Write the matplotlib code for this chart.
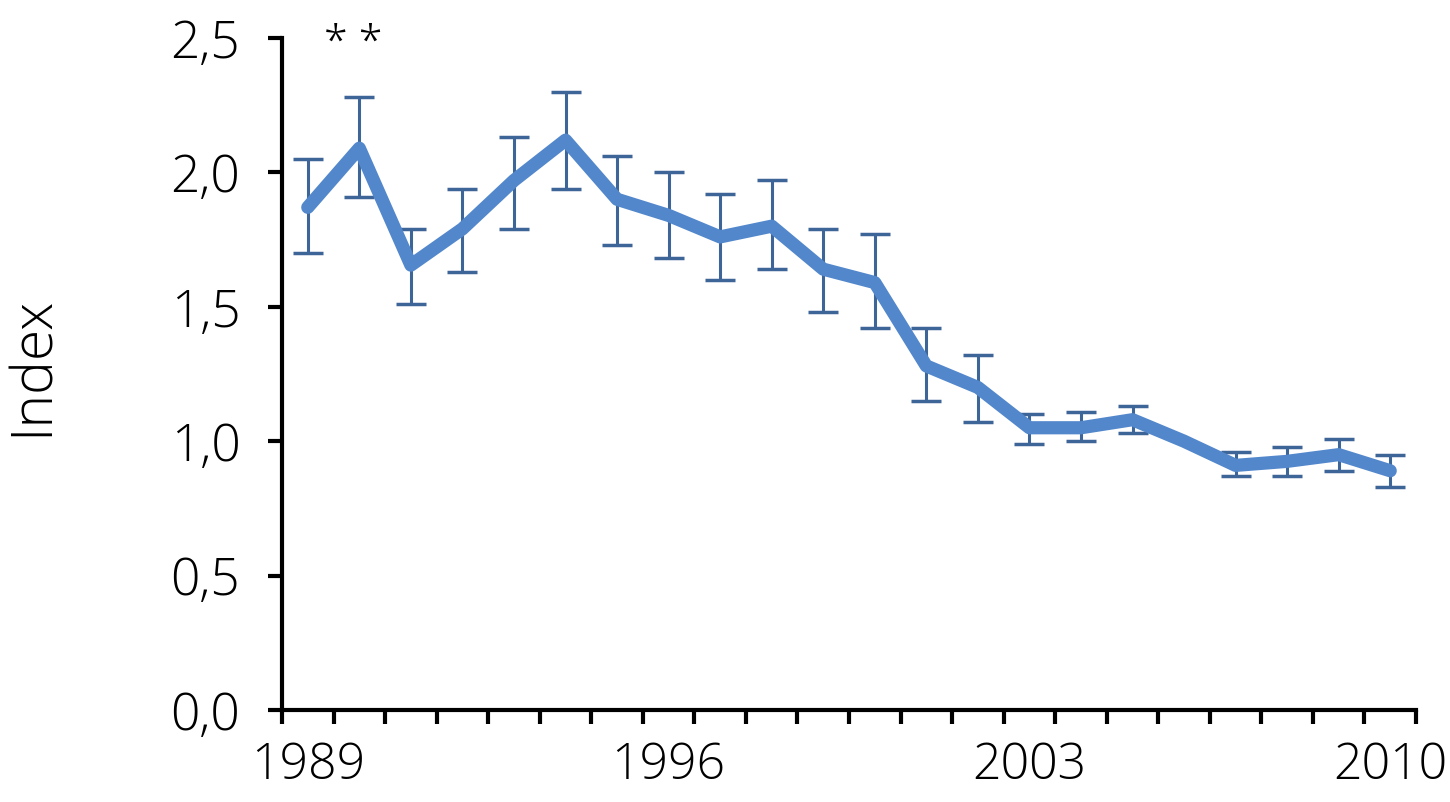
import matplotlib
matplotlib.use("Agg")
import matplotlib.pyplot as plt
import numpy as np

plt.rcParams['font.family'] = ['Open Sans', 'DejaVu Sans']

years = list(range(1989, 2011))
values = [1.87, 2.09, 1.655, 1.79, 1.97, 2.12, 1.90, 1.84, 1.76, 1.80, 1.64, 1.59,
          1.28, 1.20, 1.05, 1.05, 1.08, 1.00, 0.91, 0.925, 0.95, 0.89]
upper = [2.05, 2.28, 1.79, 1.94, 2.13, 2.30, 2.06, 2.00, 1.92, 1.97, 1.79, 1.77,
         1.42, 1.32, 1.10, 1.11, 1.13, None, 0.96, 0.98, 1.01, 0.95]
lower = [1.70, 1.91, 1.51, 1.63, 1.79, 1.94, 1.73, 1.68, 1.60, 1.64, 1.48, 1.42,
         1.15, 1.07, 0.99, 1.00, 1.03, None, 0.87, 0.87, 0.89, 0.83]
label_years = [1989, 1996, 2003, 2010]
y_ticks = [0.0, 0.5, 1.0, 1.5, 2.0, 2.5]
y_label = "Index"
annotation = "* *"

fig = plt.figure(figsize=(14.5, 8.02), dpi=100)
ax = fig.add_axes([282/1450, 1 - 710/802, (1416-282)/1450, (710-38)/802])

x = np.arange(len(years))
ax.plot(x, values, color='#5287cb', lw=9.5, solid_capstyle='round', solid_joinstyle='round', zorder=3)

ex, ey, elo, ehi = [], [], [], []
for i, (v, u, l) in enumerate(zip(values, upper, lower)):
    if u is None:
        continue
    ex.append(i); ey.append(v); elo.append(v - l); ehi.append(u - v)
ax.errorbar(ex, ey, yerr=[elo, ehi], fmt='none', ecolor='#3d6598', elinewidth=2.2,
            capsize=11, capthick=2.5, zorder=2)

ax.set_xlim(-0.5, len(years) - 0.5)
ax.set_ylim(0, 2.5)

ax.set_xticks(np.arange(-0.5, len(years)), minor=False)
ax.set_xticklabels([])
ax.set_xticks([years.index(y) for y in label_years], minor=True)
ax.set_xticklabels([str(y) for y in label_years], minor=True)
ax.tick_params(axis='x', which='major', length=10, width=3, direction='out')
ax.tick_params(axis='x', which='minor', length=0, pad=22, labelsize=36)

ax.set_yticks(y_ticks)
ax.set_yticklabels([f"{t:.1f}".replace('.', ',') for t in y_ticks])
ax.tick_params(axis='y', length=10, width=3, direction='out', labelsize=37, pad=20)

for lbl in ax.get_xticklabels(minor=True) + ax.get_yticklabels():
    lbl.set_fontweight('light')

for s in ['top', 'right']:
    ax.spines[s].set_visible(False)
for s in ['left', 'bottom']:
    ax.spines[s].set_linewidth(3)

fig.text(33/1450, 1 - 366/802, y_label, rotation=90, ha='center', va='center',
         fontsize=41, fontweight='light')
ax.text(0.88, 2.48, annotation, ha='center', va='center', fontsize=31, fontweight='light')

fig.savefig("out.png", dpi=100)
